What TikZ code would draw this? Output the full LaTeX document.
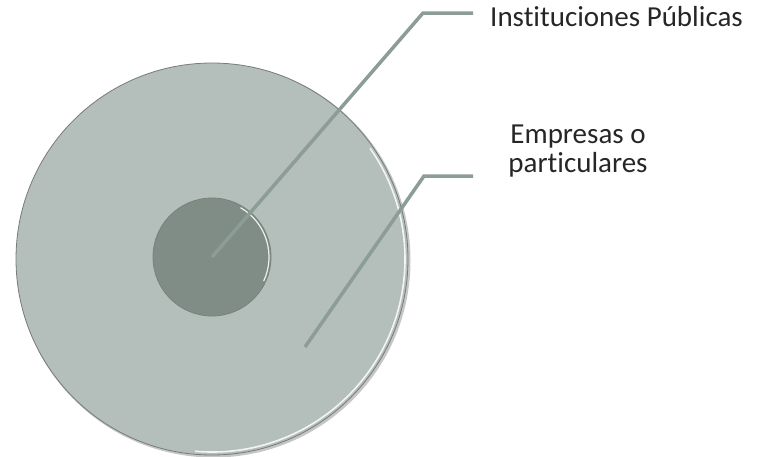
\documentclass[tikz,border=0pt]{standalone}
\usepackage{fontspec}
\setmainfont{Carlito}[Ligatures=NoCommon]
\usepackage{tikz}
\usetikzlibrary{calc,positioning}
\definecolor{outerfill}{RGB}{180,190,186}
\definecolor{innerfill}{RGB}{128,141,135}
\definecolor{leader}{RGB}{140,156,150}
\definecolor{rim}{RGB}{118,124,121}
\tikzset{disc/.style={circle,inner sep=0pt,draw=rim,line width=0.8pt}}
\tikzset{leaderline/.style={draw=leader,line width=3.5pt}}
\tikzset{shine/.style={draw=white,line width=1.6pt,opacity=0.85}}
\tikzset{labeltext/.style={inner sep=0pt,font=\fontsize{29}{29.5}\selectfont,text=black!85}}

\begin{document}
\begin{tikzpicture}[x=1pt,y=1pt]
    \useasboundingbox (0,0) rectangle (765,-456);
    \fill [gray!45] (213.5,-260.5) circle (197);
    \node [disc,minimum size=392pt,fill=outerfill] (outer) at (212,-259) {};
    \draw [shine] ([shift={(-95:193)}]outer.center) arc[start angle=-95, end angle=35, radius=193];
    \node [disc,minimum size=118pt,fill=innerfill,draw=innerfill!92!black] (inner) at (212,-257) {};
    \draw [shine,line width=1.2pt] ([shift={(-25:57)}]inner.center) arc[start angle=-25, end angle=60, radius=57];
    \node [labeltext,anchor=base west] (pub) at (490,-26.5) {Instituciones Públicas};
    \node [labeltext,align=center,anchor=base] (emp) at (578,-172.5) {Empresas o\\particulares};
    \coordinate (bendpub) at (423,-13);
    \coordinate (endpub) at (473,-13);
    \coordinate (tipemp) at (305,-347);
    \coordinate (bendemp) at (424,-176);
    \coordinate (endemp) at (473,-176);
    \draw [leaderline] (inner.center) -- (bendpub) -- (endpub);
    \draw [leaderline] (tipemp) -- (bendemp) -- (endemp);
\end{tikzpicture}
\end{document}
